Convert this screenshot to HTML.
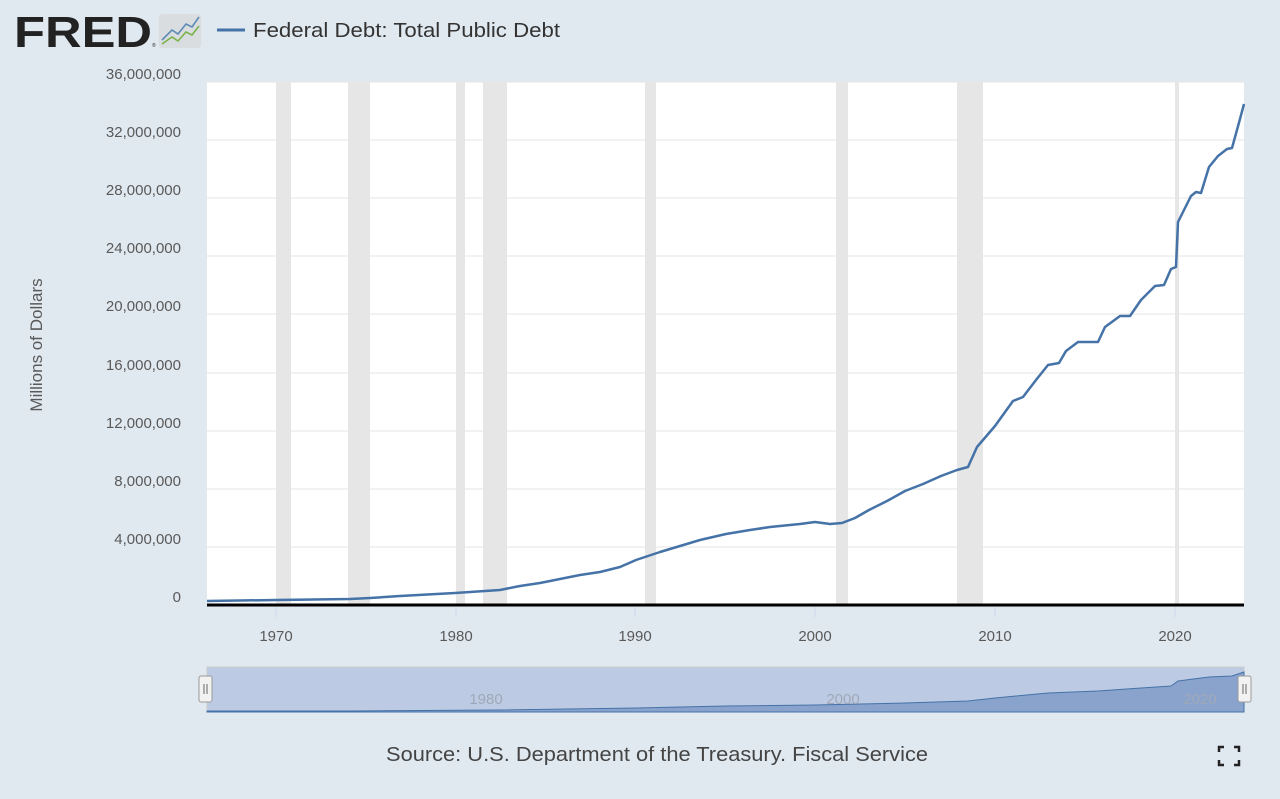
<!DOCTYPE html>
<html><head><style>
body{margin:0;width:1280px;height:799px;background:#e1e9f0;font-family:"Liberation Sans",sans-serif;overflow:hidden;position:relative}
</style></head><body>
<svg width="1280" height="799" style="position:absolute;left:0;top:0" font-family="Liberation Sans">
<text x="14" y="47" font-weight="bold" font-size="44" fill="#222" textLength="138" lengthAdjust="spacingAndGlyphs">FRED</text>
<text x="152" y="47" font-size="5" fill="#222">®</text>
<rect x="159" y="14" width="42" height="34" rx="3" fill="#d9dde0"/>
<polyline points="162,40 172,30 178,34 186,24 192,27 199,17" fill="none" stroke="#5e8ab4" stroke-width="1.6"/>
<polyline points="162,44 172,37 178,41 186,32 192,35 199,26" fill="none" stroke="#7ab34a" stroke-width="1.6"/>
<line x1="217" y1="30" x2="245" y2="30" stroke="#4572a7" stroke-width="3"/>
<text x="253" y="37" font-size="20" fill="#333" textLength="307" lengthAdjust="spacingAndGlyphs">Federal Debt: Total Public Debt</text>
<rect x="207" y="82" width="1037" height="523" fill="#fff"/>
<g fill="#e6e6e6">
<rect x="276" y="82" width="15" height="523"/><rect x="348" y="82" width="22" height="523"/>
<rect x="456" y="82" width="9" height="523"/><rect x="483" y="82" width="24" height="523"/>
<rect x="645" y="82" width="11" height="523"/><rect x="836" y="82" width="12" height="523"/>
<rect x="957" y="82" width="26" height="523"/><rect x="1175" y="82" width="4" height="523"/>
</g>
<g stroke="#e6e6e6" stroke-width="1">
<line x1="207" x2="1244" y1="82" y2="82"/><line x1="207" x2="1244" y1="140" y2="140"/><line x1="207" x2="1244" y1="198" y2="198"/><line x1="207" x2="1244" y1="256" y2="256"/><line x1="207" x2="1244" y1="314" y2="314"/><line x1="207" x2="1244" y1="373" y2="373"/><line x1="207" x2="1244" y1="431" y2="431"/><line x1="207" x2="1244" y1="489" y2="489"/><line x1="207" x2="1244" y1="547" y2="547"/>
</g>
<polyline fill="none" stroke="#4572a7" stroke-width="2.5" stroke-linejoin="round" points="207,601 276,600 350,599 370,598 400,596 455,593 500,590 520,586 540,583 560,579 580,575 600,572 620,567 636,560 660,552 680,546 700,540 726,534 750,530 770,527 800,524 815,522 830,524 842,523 855,518 869,510 887,501 905,491 923,484 941,476 957,470 968,467 977,447 995,426 1013,401 1023,397 1036,380 1048,365 1059,363 1066,351 1078,342 1098,342 1105,327 1120,316 1130,316 1141,300 1155,286 1164,285 1171,269 1176,267 1178,222 1191,196 1196,192 1201,193 1209,167 1218,156 1227,149 1232,148 1240,119 1244,104"/>
<line x1="207" x2="1244" y1="605" y2="605" stroke="#000" stroke-width="3"/>
<g stroke="#ccd6eb"><line x1="276" x2="276" y1="607" y2="617"/><line x1="456" x2="456" y1="607" y2="617"/><line x1="635" x2="635" y1="607" y2="617"/><line x1="815" x2="815" y1="607" y2="617"/><line x1="995" x2="995" y1="607" y2="617"/><line x1="1175" x2="1175" y1="607" y2="617"/></g>
<g font-size="15" fill="#595959" text-anchor="middle">
<text x="276" y="641">1970</text><text x="456" y="641">1980</text><text x="635" y="641">1990</text><text x="815" y="641">2000</text><text x="995" y="641">2010</text><text x="1175" y="641">2020</text>
</g>
<g font-size="15" fill="#595959" text-anchor="end">
<text x="181" y="79">36,000,000</text><text x="181" y="137">32,000,000</text><text x="181" y="195">28,000,000</text><text x="181" y="253">24,000,000</text><text x="181" y="311">20,000,000</text><text x="181" y="370">16,000,000</text><text x="181" y="428">12,000,000</text><text x="181" y="486">8,000,000</text><text x="181" y="544">4,000,000</text><text x="181" y="602">0</text>
</g>
<text transform="translate(42,345) rotate(-90)" font-size="17" fill="#595959" text-anchor="middle">Millions of Dollars</text>
<rect x="207" y="667" width="1037" height="45" fill="#bccbe3" stroke="#ccc"/>
<polygon fill="#8aa3cc" stroke="#4572a7" stroke-width="1" points="207,711 350,711 500,710 636,708 726,706 815,705 905,703 968,701 995,698 1048,693 1098,691 1141,688 1171,686 1178,681 1209,677 1232,676 1244,672 1244,712 207,712"/>
<g font-size="15" fill="#a0a8b8" text-anchor="middle"><text x="486" y="704">1980</text><text x="843" y="704">2000</text><text x="1200" y="704">2020</text></g>
<rect x="199" y="676" width="13" height="26" rx="2" fill="#f2f2f2" stroke="#999"/>
<rect x="1238" y="676" width="13" height="26" rx="2" fill="#f2f2f2" stroke="#999"/>
<g stroke="#666"><line x1="204" x2="204" y1="684" y2="694"/><line x1="207" x2="207" y1="684" y2="694"/><line x1="1243" x2="1243" y1="684" y2="694"/><line x1="1246" x2="1246" y1="684" y2="694"/></g>
<text x="386" y="761" font-size="20" fill="#444" textLength="542" lengthAdjust="spacingAndGlyphs">Source: U.S. Department of the Treasury. Fiscal Service</text>
<g stroke="#222" stroke-width="2.5" fill="none"><polyline points="1219,752 1219,747 1224,747"/><polyline points="1234,747 1239,747 1239,752"/><polyline points="1219,760 1219,765 1224,765"/><polyline points="1234,765 1239,765 1239,760"/></g>
</svg>
</body></html>
